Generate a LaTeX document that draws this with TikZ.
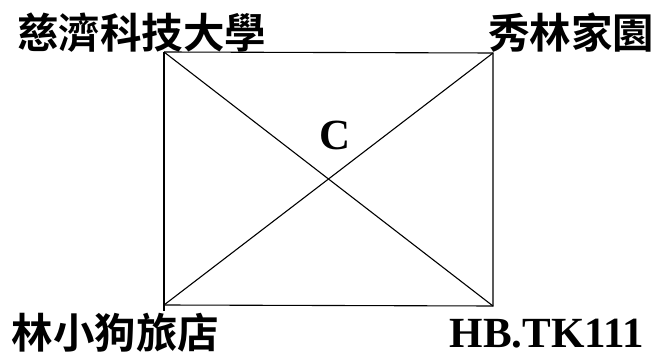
\documentclass[tikz,border=0pt]{standalone}
\usepackage{fontspec}
\setmainfont{Liberation Serif}
\newfontfamily\cjkfont{Noto Sans CJK TC}[BoldFont={Noto Sans CJK TC Bold}]
\begin{document}
\begin{tikzpicture}[x=1pt,y=-1pt,
  cjk/.style={font=\cjkfont\bfseries\fontsize{41.5}{44}\selectfont, inner sep=0pt},
  latin/.style={font=\bfseries\fontsize{43}{46}\selectfont, inner sep=0pt},
  edge/.style={draw=black, line width=1.1pt}]
\useasboundingbox (0,0) rectangle (669,363);
\coordinate (tl) at (164,52);
\coordinate (tr) at (493,53);
\coordinate (br) at (493,306);
\coordinate (bl) at (164,305);
\coordinate (blx) at (164,311);
\draw[edge] (tl) -- (tr) -- (br) -- (bl);
\draw[edge] (tl) -- (blx);
\draw[edge] (tl) -- (br);
\draw[edge] (bl) -- (tr);
\node[cjk] (t1) at (141.5,33) {慈濟科技大學};
\node[cjk] (t2) at (571,33) {秀林家園};
\node[cjk] (t3) at (115.5,333) {林小狗旅店};
\node[latin, anchor=base] (t4) at (547,347) {HB.TK111};
\node[latin, anchor=base] (c) at (335,150) {C};
\end{tikzpicture}
\end{document}
